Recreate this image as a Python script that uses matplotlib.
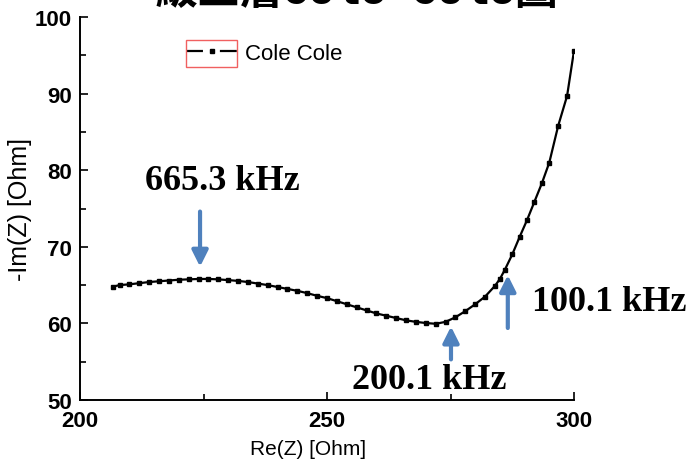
import matplotlib
matplotlib.use("Agg")
import matplotlib.pyplot as plt
from matplotlib.patches import Rectangle

# Cole-Cole data
re_z = [206.7, 208, 210, 212, 214, 216, 218, 220, 222, 224, 226, 228, 230, 232,
        234, 236, 238, 240, 242, 244, 246, 248, 250, 252, 254, 256, 258, 260,
        262, 264, 266, 268, 270, 272, 274, 276, 278, 280, 282, 284, 285, 286,
        287.5, 289, 290.5, 292, 293.5, 295, 296.8, 298.6, 300]
im_z = [64.8, 65.0, 65.1, 65.25, 65.4, 65.5, 65.6, 65.7, 65.75, 65.8, 65.8, 65.75,
        65.65, 65.55, 65.4, 65.2, 65.0, 64.75, 64.5, 64.25, 63.95, 63.6, 63.3,
        62.9, 62.5, 62.1, 61.7, 61.3, 61.0, 60.7, 60.4, 60.2, 60.05, 59.95, 60.2,
        60.8, 61.6, 62.5, 63.5, 64.9, 65.8, 67.0, 69.0, 71.3, 73.5, 75.9, 78.3,
        81.0, 85.8, 89.7, 95.6]

# frequency annotations: label, arrow tip, arrow tail, text position
freq_labels = ["665.3 kHz", "200.1 kHz", "100.1 kHz"]
arrow_tips = [(224.3, 67.4), (275.1, 59.6), (286.6, 66.3)]
arrow_tails = [(224.3, 74.6), (275.1, 55.3), (286.6, 59.4)]
label_pos = [(228.9, 78.6), (270.6, 52.7), (307.1, 62.9)]

fig = plt.figure(figsize=(6.98, 4.64), dpi=100)
ax = fig.add_axes([80 / 698, 1 - 401 / 464, 494 / 698, 383 / 464])

line, = ax.plot(re_z, im_z, color="black", lw=1.6, marker="s", ms=3.5,
                label="Cole Cole")

ax.set_xlim(200, 300)
ax.set_ylim(50, 100)
ax.set_xticks([200, 250, 300])
ax.set_xticks([225, 275], minor=True)
ax.set_yticks([50, 60, 70, 80, 90, 100])
ax.set_yticks([55, 65, 75, 85, 95], minor=True)

for s in ["top", "right"]:
    ax.spines[s].set_visible(False)
for s in ["left", "bottom"]:
    ax.spines[s].set_linewidth(1.4)

ax.tick_params(which="major", direction="in", length=6, width=1.2)
ax.tick_params(which="minor", direction="in", length=4.5, width=1.2)
ax.tick_params(axis="y", pad=6)
ax.tick_params(axis="x", pad=7)
for lab in ax.get_xticklabels() + ax.get_yticklabels():
    lab.set_family("Liberation Sans")
    lab.set_fontweight("bold")
    lab.set_fontsize(16)

ax.set_xlabel("Re(Z) [Ohm]", family="Liberation Sans", fontsize=15)
ax.xaxis.set_label_coords(0.4615, -0.102)
ax.set_ylabel("-Im(Z) [Ohm]", family="Liberation Sans", fontsize=18, labelpad=2)

# arrows + labels
for lab, tip, tail, pos in zip(freq_labels, arrow_tips, arrow_tails, label_pos):
    ax.annotate("", xy=tip, xytext=tail,
                arrowprops=dict(arrowstyle="-|>", color="#4f81bd", lw=3,
                                mutation_scale=24, shrinkA=0, shrinkB=0),
                annotation_clip=False)
    ax.text(pos[0], pos[1], lab, family="Liberation Serif", fontweight="bold",
            fontsize=26, ha="center", va="center", clip_on=False)

# legend
leg = ax.legend(loc="center left", bbox_to_anchor=(186 / 698, 1 - 54 / 464),
                bbox_transform=fig.transFigure, frameon=False, borderpad=0,
                borderaxespad=0, handlelength=2.3, handletextpad=0.35,
                numpoints=1, prop={"family": "Liberation Sans", "size": 16})
hl = leg.get_lines()[0]
hl.set_dashes([12.2 / 1.6, 12.2 / 1.6])
fig.patches.append(Rectangle((186 / 698, 1 - 68 / 464), 51 / 698, 27 / 464,
                             transform=fig.transFigure, fill=False,
                             edgecolor="#f06060", lw=1))

# title, cut off at the top edge like in the original
fig.text(0.511, 1 - 4 / 464, "級三層Cole-Cole圖",
         family=["Liberation Mono", "Noto Sans CJK TC"], fontweight="bold",
         fontsize=31, ha="center", va="baseline")

fig.savefig("out.png", dpi=100)
